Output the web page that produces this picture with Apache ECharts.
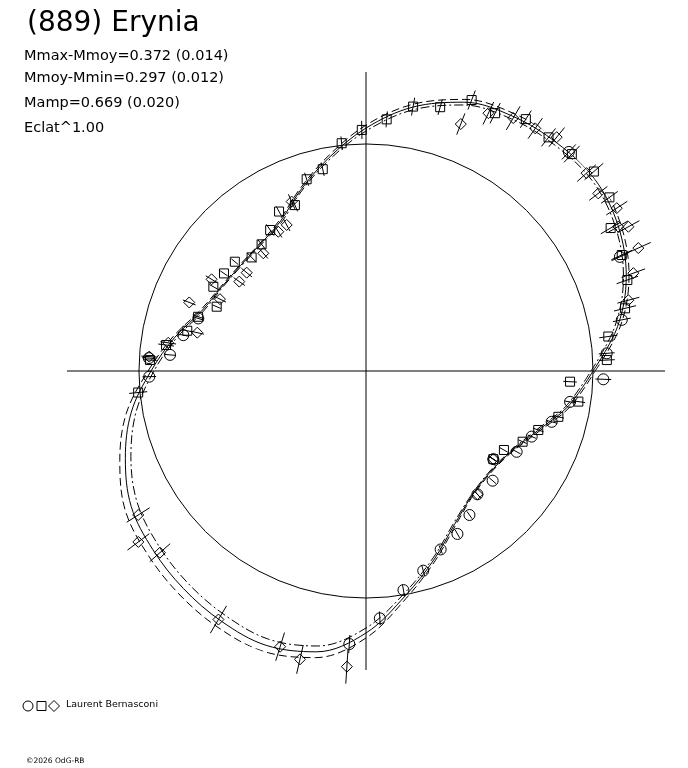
<!DOCTYPE html>
<html>
<head>
<meta charset="utf-8">
<script src="https://cdn.jsdelivr.net/npm/echarts@6/dist/echarts.min.js"></script>
<style>
  html, body { margin: 0; padding: 0; background: #fff; }
  #chart { width: 688px; height: 768px; }
</style>
</head>
<body>
<div id="chart"></div>
<script>
// phase grid in degrees, fitted relative flux (1 = mean circle)
var gridAngle = [0, 10, 20, 30, 40, 50, 60, 70, 80, 90, 100, 110, 120, 130, 140, 150, 160, 170, 180,
  190, 200, 210, 220, 230, 240, 250, 260, 270, 280, 290, 300, 310, 320, 330, 340, 350, 360];
var fitSolid = [1.000, 1.125, 1.220, 1.282, 1.315, 1.310, 1.295, 1.260, 1.180, 1.070, 0.952, 0.846, 0.758,
  0.727, 0.722, 0.736, 0.771, 0.855, 0.947, 1.050, 1.128, 1.194, 1.225, 1.251, 1.273, 1.286, 1.256,
  1.154, 1.004, 0.881, 0.780, 0.722, 0.705, 0.727, 0.793, 0.903, 1.000];
var fitDashed = [1.009, 1.138, 1.233, 1.295, 1.328, 1.323, 1.308, 1.273, 1.193, 1.083, 0.961, 0.853, 0.765,
  0.731, 0.726, 0.740, 0.778, 0.864, 0.960, 1.072, 1.154, 1.225, 1.256, 1.282, 1.304, 1.315, 1.282,
  1.176, 1.017, 0.890, 0.787, 0.726, 0.709, 0.731, 0.800, 0.912, 1.009];
var fitDashDot = [0.991, 1.112, 1.207, 1.269, 1.302, 1.297, 1.282, 1.247, 1.167, 1.057, 0.943, 0.839, 0.751,
  0.723, 0.718, 0.732, 0.764, 0.846, 0.934, 1.028, 1.102, 1.163, 1.194, 1.220, 1.242, 1.257, 1.230,
  1.132, 0.991, 0.872, 0.773, 0.718, 0.701, 0.723, 0.786, 0.894, 0.991];

// observations: squares
var sqPhase = [96.1, 91.0, 85.3, 79.9, 74.3, 68.7, 63.4, 57.6, 52.0, 46.5, 41.2, 35.5, 30.3, 24.4, 19.2,
  13.6, 8.1, 2.6, 357.0, 351.8, 346.6, 341.1, 335.7, 330.2, 325.3, 102.1, 107.2, 113.2, 118.6, 124.2,
  129.5, 135.2, 140.2, 145.5, 151.1, 156.7, 162.1, 167.3, 172.6, 177.1, 185.4];
var sqFlux = [1.009, 1.062, 1.112, 1.183, 1.207, 1.281, 1.270, 1.314, 1.306, 1.317, 1.334, 1.317, 1.248,
  1.237, 1.219, 1.174, 1.078, 1.062, 0.900, 0.945, 0.871, 0.802, 0.757, 0.700, 0.682, 0.909, 0.884,
  0.795, 0.800, 0.751, 0.723, 0.710, 0.752, 0.759, 0.768, 0.716, 0.777, 0.807, 0.888, 0.953, 1.008];
var sqErr = [0.030, 0.040, 0.035, 0.040, 0.035, 0.045, 0.050, 0.045, 0.050, 0.050, 0.055, 0.045, 0.050,
  0.050, 0.050, 0.050, 0.040, 0.035, 0.030, 0.030, 0.025, 0.025, 0.020, 0.020, 0.020, 0.030, 0.030,
  0.030, 0.025, 0.030, 0.025, 0.030, 0.020, 0.020, 0.020, 0.020, 0.025, 0.025, 0.035, 0.030, 0.040];

// circles
var ciPhase = [47.2, 24.2, 11.3, 4.2, 358.0, 351.4, 344.7, 338.4, 331.8, 325.3, 319.1, 312.1, 305.7, 299.3,
  292.7, 286.0, 279.7, 273.2, 266.5, 162.6, 168.9, 175.3, 176.6, 181.5];
var ciFlux = [1.315, 1.226, 1.149, 1.063, 1.046, 0.909, 0.848, 0.785, 0.753, 0.682, 0.738, 0.732, 0.781,
  0.823, 0.852, 0.915, 0.979, 1.091, 1.205, 0.774, 0.820, 0.866, 0.958, 0.955];
var ciErr = [0.045, 0.040, 0.040, 0.035, 0.035, 0.025, 0.025, 0.020, 0.020, 0.020, 0.020, 0.020, 0.020,
  0.020, 0.020, 0.025, 0.025, 0.030, 0.040, 0.025, 0.025, 0.025, 0.030, 0.030];

// diamonds
var diPhase = [69.0, 64.6, 59.8, 55.1, 50.8, 41.9, 37.4, 33.0, 29.8, 28.8, 24.3, 20.1, 15.1, 325.3, 312.1,
  212.3, 216.9, 221.4, 239.3, 252.7, 257.1, 266.3, 113.7, 118.5, 122.2, 131.1, 140.5, 144.8, 149.3,
  153.8, 158.8, 167.2, 171.9, 176.2];
var diFlux = [1.165, 1.257, 1.289, 1.303, 1.329, 1.305, 1.288, 1.317, 1.280, 1.319, 1.316, 1.254, 1.197,
  0.682, 0.732, 1.187, 1.254, 1.210, 1.273, 1.272, 1.303, 1.305, 0.815, 0.732, 0.725, 0.688, 0.681,
  0.683, 0.791, 0.717, 0.835, 0.762, 0.880, 0.957];
var diErr = [0.050, 0.055, 0.060, 0.055, 0.055, 0.055, 0.050, 0.055, 0.050, 0.055, 0.060, 0.055, 0.050,
  0.020, 0.020, 0.060, 0.060, 0.060, 0.070, 0.065, 0.065, 0.075, 0.035, 0.030, 0.030, 0.030, 0.030,
  0.030, 0.030, 0.030, 0.030, 0.030, 0.035, 0.035];

var infoLines = ['Mmax-Mmoy=0.372 (0.014)', 'Mmoy-Mmin=0.297 (0.012)', 'Mamp=0.669 (0.020)', 'Eclat^1.00'];
var infoTops = [49, 71, 96, 121];

var chart = echarts.init(document.getElementById('chart'), null, { renderer: 'canvas' });
var font = 'DejaVu Sans, Liberation Sans, sans-serif';

function fitData(vals) {
  return gridAngle.map(function (a, i) { return [vals[i], a]; });
}
function obsData(phase, flux, err) {
  return phase.map(function (a, i) { return [flux[i], a, err[i]]; });
}

// radial error bar drawn through the polar scales
function errRender(params, api) {
  var r = api.value(0), a = api.value(1), e = api.value(2);
  var p1 = api.coord([r - e, a]);
  var p2 = api.coord([r + e, a]);
  return {
    type: 'line',
    shape: { x1: p1[0], y1: p1[1], x2: p2[0], y2: p2[1] },
    style: { stroke: '#000', lineWidth: 1 }
  };
}

function errSeries(data) {
  return {
    type: 'custom', coordinateSystem: 'polar', clip: false, silent: true,
    encode: { radius: 0, angle: 1 },
    renderItem: errRender, data: data, z: 3
  };
}
function markSeries(data, symbol, size) {
  return {
    type: 'scatter', coordinateSystem: 'polar', clip: false, silent: true,
    symbol: symbol, symbolSize: size,
    itemStyle: { color: 'none', borderColor: '#000', borderWidth: 1, opacity: 1 },
    data: data.map(function (d) { return [d[0], d[1]]; }), z: 4
  };
}
function fitSeries(vals, type) {
  return {
    type: 'line', coordinateSystem: 'polar', clip: false, silent: true,
    symbol: 'none', smooth: 0.35,
    lineStyle: { color: '#000', width: 1, type: type },
    data: fitData(vals), z: 2
  };
}

var sqData = obsData(sqPhase, sqFlux, sqErr);
var ciData = obsData(ciPhase, ciFlux, ciErr);
var diData = obsData(diPhase, diFlux, diErr);

var graphics = [{
  type: 'text', left: 27, top: 10,
  style: { text: '(889) Erynia', font: '28px ' + font, fill: '#000' }
}];
infoLines.forEach(function (t, i) {
  graphics.push({
    type: 'text', left: 24, top: infoTops[i],
    style: { text: t, font: '14.5px ' + font, fill: '#000' }
  });
});
graphics.push(
  { type: 'circle', shape: { cx: 28, cy: 706, r: 5 }, style: { fill: 'none', stroke: '#000', lineWidth: 1 } },
  { type: 'rect', shape: { x: 37, y: 701.5, width: 9, height: 9 }, style: { fill: 'none', stroke: '#000', lineWidth: 1 } },
  { type: 'polygon', shape: { points: [[54, 700.5], [59.5, 706], [54, 711.5], [48.5, 706]] }, style: { fill: 'none', stroke: '#000', lineWidth: 1 } },
  { type: 'text', left: 66, top: 700, style: { text: 'Laurent Bernasconi', font: '9.5px ' + font, fill: '#000' } },
  { type: 'text', left: 26, top: 757, style: { text: '\u00a92026 OdG-RB', font: '7.5px ' + font, fill: '#000' } }
);

var option = {
  animation: false,
  backgroundColor: '#fff',
  polar: { center: [366, 371], radius: 299 },
  angleAxis: {
    type: 'value', min: 0, max: 360, interval: 90,
    startAngle: 0, clockwise: false,
    axisLine: { show: false }, axisTick: { show: false }, axisLabel: { show: false },
    splitLine: { show: true, lineStyle: { color: '#000', width: 1 } }
  },
  radiusAxis: {
    type: 'value', min: 0, max: 1.317, interval: 1,
    axisLine: { show: false }, axisTick: { show: false }, axisLabel: { show: false },
    splitLine: { show: true, lineStyle: { color: ['transparent', '#000', 'transparent'], width: 1 } }
  },
  graphic: graphics,
  series: [
    fitSeries(fitSolid, 'solid'),
    fitSeries(fitDashed, [8, 4]),
    fitSeries(fitDashDot, [9, 3, 2, 3]),
    errSeries(sqData), errSeries(ciData), errSeries(diData),
    markSeries(sqData, 'rect', 9),
    markSeries(ciData, 'circle', 11),
    markSeries(diData, 'diamond', 11)
  ]
};
chart.setOption(option);
</script>
</body>
</html>
